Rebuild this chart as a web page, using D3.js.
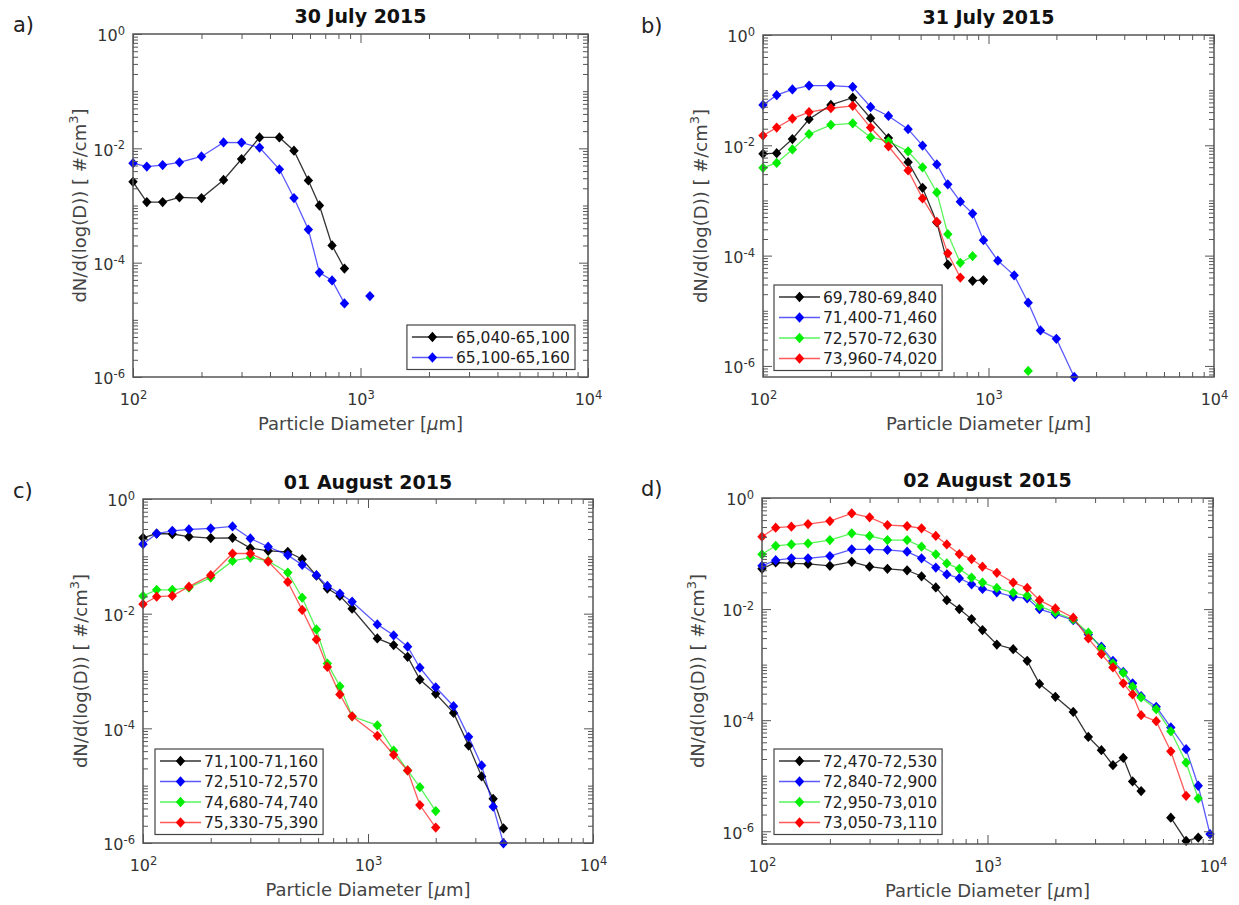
<!DOCTYPE html>
<html>
<head>
<meta charset="utf-8">
<script src="https://cdn.jsdelivr.net/npm/d3@7"></script>
<style>
  body { margin: 0; background: #fff; }
  svg text { font-family: "DejaVu Sans", sans-serif; }
</style>
</head>
<body>
<svg id="fig" width="1239" height="905"></svg>
<script>
/* ===== Data ===== */
// particle diameter bin centres [um]
const diameters = [100, 115, 135, 160, 200, 250, 300, 360, 440, 510, 590, 660, 750, 850, 950,
                   1100, 1300, 1500, 1700, 2000, 2400, 2800, 3200, 3600, 4000, 4400, 4800,
                   5600, 6500, 7600, 8600, 9700];
// panel c has no separate 950 bin
const diametersC = diameters.filter(d => d !== 950);

const titles = ["30 July 2015", "31 July 2015", "01 August 2015", "02 August 2015"];
const panelLetters = ["a)", "b)", "c)", "d)"];
const seriesColors = ["#000000", "#0000ff", "#00ee00", "#ff0000"];

// a) 30 July 2015
const legendA = ["65,040-65,100", "65,100-65,160"];
const a_65040 = [2.6e-3, 1.15e-3, 1.15e-3, 1.39e-3, 1.35e-3, 2.8e-3, 6.5e-3, 1.55e-2, 1.55e-2, 9.1e-3,
                 2.74e-3, 1.0e-3, 2.0e-4, 7.9e-5];
const a_65100 = [5.5e-3, 4.8e-3, 5.1e-3, 5.7e-3, 7.2e-3, 1.27e-2, 1.26e-2, 1.03e-2, 4.3e-3, 1.35e-3,
                 3.8e-4, 6.7e-5, 4.9e-5, 1.94e-5, null, 2.6e-5];

// b) 31 July 2015
const legendB = ["69,780-69,840", "71,400-71,460", "72,570-72,630", "73,960-74,020"];
const b_69780 = [7.0e-3, 7.2e-3, 1.3e-2, 2.97e-2, 5.4e-2, 7.3e-2, 3.1e-2, 1.35e-2, 4.95e-3, 1.7e-3,
                 4.0e-4, 6.9e-5, null, 3.5e-5, 3.6e-5];
const b_71400 = [5.4e-2, 8.1e-2, 0.103, 0.121, 0.121, 0.115, 4.95e-2, 3.4e-2, 1.96e-2, 9.9e-3,
                 4.5e-3, 1.96e-3, 9.5e-4, 5.8e-4, 1.9e-4, 8.1e-5, 4.4e-5, 1.4e-5, 4.4e-6, 3.1e-6, 6.3e-7];
const b_72570 = [3.9e-3, 4.8e-3, 8.4e-3, 1.6e-2, 2.35e-2, 2.5e-2, 1.4e-2, 1.18e-2, 7.8e-3, 4.0e-3,
                 1.4e-3, 2.45e-4, 7.4e-5, 9.8e-5, null, null, null, 8.1e-7];
const b_73960 = [1.5e-2, 2.1e-2, 3.05e-2, 4.0e-2, 4.7e-2, 5.2e-2, 2.1e-2, 9.6e-3, 3.5e-3, 1.09e-3,
                 4.1e-4, 1.1e-4, 4.0e-5];

// c) 01 August 2015 (on diametersC)
const legendC = ["71,100-71,160", "72,510-72,570", "74,680-74,740", "75,330-75,390"];
const c_71100 = [0.21, 0.25, 0.245, 0.22, 0.208, 0.21, 0.139, 0.125, 0.12, 8.9e-2, 4.6e-2, 2.74e-2,
                 2.04e-2, 1.22e-2, 3.7e-3, 2.83e-3, 1.77e-3, 7.1e-4, 4.0e-4, 1.86e-4, 5.0e-5, 1.45e-5,
                 5.9e-6, 1.8e-6];
const c_72510 = [0.163, 0.25, 0.279, 0.294, 0.307, 0.333, 0.205, 0.147, 0.105, 7.1e-2, 4.7e-2, 3.05e-2,
                 2.24e-2, 1.62e-2, 6.5e-3, 4.2e-3, 2.65e-3, 1.14e-3, 5.2e-4, 2.43e-4, 7.1e-5, 2.25e-5,
                 4.3e-6, 9.9e-7];
const c_74680 = [2.04e-2, 2.6e-2, 2.6e-2, 2.85e-2, 4.26e-2, 8.3e-2, 9.5e-2, 8.3e-2, 5.2e-2, 1.9e-2,
                 5.3e-3, 1.35e-3, 5.4e-4, 1.62e-4, 1.13e-4, 4.1e-5, 1.84e-5, 9.4e-6, 3.6e-6];
const c_75330 = [1.46e-2, 1.98e-2, 2.04e-2, 2.96e-2, 4.7e-2, 0.112, 0.112, 8.1e-2, 3.58e-2, 1.16e-2,
                 3.56e-3, 1.18e-3, 3.9e-4, 1.62e-4, 7.4e-5, 3.46e-5, 1.84e-5, 4.6e-6, 1.86e-6];

// d) 02 August 2015
const legendD = ["72,470-72,530", "72,840-72,900", "72,950-73,010", "73,050-73,110"];
const d_72470 = [5.3e-2, 6.9e-2, 6.65e-2, 6.5e-2, 6.0e-2, 7.1e-2, 5.8e-2, 5.3e-2, 5.0e-2, 3.9e-2,
                 2.46e-2, 1.45e-2, 1.0e-2, 6.6e-3, 4.2e-3, 2.3e-3, 1.9e-3, 1.17e-3, 4.5e-4, 2.64e-4,
                 1.41e-4, 5.0e-5, 2.88e-5, 1.55e-5, 2.1e-5, 7.9e-6, 5.3e-6, null, 1.76e-6, 6.7e-7, 7.7e-7];
const d_72840 = [6.0e-2, 7.6e-2, 8.2e-2, 8.2e-2, 9.0e-2, 0.119, 0.119, 0.116, 0.108, 8.2e-2,
                 5.6e-2, 4.2e-2, 3.6e-2, 2.8e-2, 2.3e-2, 2.0e-2, 1.67e-2, 1.56e-2, 1.0e-2, 8.1e-3,
                 6.3e-3, 3.5e-3, 2.1e-3, 1.17e-3, 7.4e-4, 4.6e-4, 2.7e-4, 1.74e-4, 7.4e-5, 3.0e-5,
                 6.6e-6, 8.9e-7];
const d_72950 = [9.7e-2, 0.138, 0.146, 0.152, 0.175, 0.231, 0.207, 0.175, 0.175, 0.133,
                 9.7e-2, 6.65e-2, 5.3e-2, 3.7e-2, 3.0e-2, 2.4e-2, 1.97e-2, 1.74e-2, 1.13e-2, 8.7e-3,
                 6.5e-3, 3.75e-3, 1.96e-3, 1.05e-3, 7.1e-4, 4.0e-4, 2.57e-4, 1.58e-4, 6.3e-5, 1.73e-5,
                 3.9e-6];
const d_73050 = [0.201, 0.292, 0.304, 0.34, 0.385, 0.53, 0.448, 0.326, 0.313, 0.284,
                 0.207, 0.146, 9.8e-2, 7.96e-2, 5.8e-2, 4.5e-2, 3.0e-2, 2.4e-2, 1.45e-2, 1.03e-2,
                 7.0e-3, 2.96e-3, 1.55e-3, 8.9e-4, 4.6e-4, 2.9e-4, 1.23e-4, 9.6e-5, 2.75e-5, 4.35e-6];

/*
* One log-log panel with box, inward ticks on all sides, markers + lines and a legend.
*/
class SizeDistPanel {

    constructor(svg, opt) {
        this.opt = opt;
        this.g = svg.append("g");
        this.x = d3.scaleLog().domain([100, 10000]).range([opt.left, opt.right]);
        this.y = d3.scaleLog().domain([opt.yMin, 1]).range([opt.bottom, opt.top]);

        this.drawSeries();
        this.drawAxes();
        this.drawTexts();
        this.drawLegend();
    }

    drawAxes() {
        const {x, y, opt, g} = this;
        const axisColor = "#555";

        const majorX = [100, 1000, 10000];
        const minorX = [];
        [100, 1000].forEach(dec => d3.range(2, 10).forEach(k => minorX.push(k * dec)));

        const majorY = [1, 1e-2, 1e-4, 1e-6];
        const minorY = [];
        d3.range(-7, 0).forEach(e => d3.range(1, 10).forEach(k => {
            const v = k * Math.pow(10, e);
            if (v >= opt.yMin && v < 1 && !majorY.some(m => Math.abs(m - v) / v < 1e-9)) minorY.push(v);
        }));

        const style = sel => {
            sel.select(".domain").remove();
            sel.selectAll(".tick line").attr("stroke", axisColor).attr("stroke-width", 1);
        };

        // ticks pointing into the box, mirrored on top and right
        g.append("g").attr("transform", `translate(0,${opt.bottom})`)
         .call(d3.axisBottom(x).tickValues(minorX).tickSize(-5).tickFormat("")).call(style);
        g.append("g").attr("transform", `translate(0,${opt.top})`)
         .call(d3.axisTop(x).tickValues(minorX).tickSize(-5).tickFormat("")).call(style);
        g.append("g").attr("transform", `translate(0,${opt.top})`)
         .call(d3.axisTop(x).tickValues(majorX).tickSize(-9).tickFormat("")).call(style);
        g.append("g").attr("transform", `translate(${opt.left},0)`)
         .call(d3.axisLeft(y).tickValues(minorY).tickSize(-5).tickFormat("")).call(style);
        g.append("g").attr("transform", `translate(${opt.right},0)`)
         .call(d3.axisRight(y).tickValues(minorY).tickSize(-5).tickFormat("")).call(style);
        g.append("g").attr("transform", `translate(${opt.right},0)`)
         .call(d3.axisRight(y).tickValues(majorY.filter(v => v >= opt.yMin)).tickSize(-9).tickFormat("")).call(style);

        // labelled major ticks
        const xAxis = g.append("g").attr("transform", `translate(0,${opt.bottom})`)
         .call(d3.axisBottom(x).tickValues(majorX).tickSize(-9).tickPadding(15)
               .tickFormat(d => Math.round(Math.log10(d))));
        xAxis.call(style);
        xAxis.selectAll(".tick text").each(function(d) { supLabel(d3.select(this), Math.round(Math.log10(d))); })
             .attr("y", 28).attr("dy", null);

        const yAxis = g.append("g").attr("transform", `translate(${opt.left},0)`)
         .call(d3.axisLeft(y).tickValues(majorY.filter(v => v >= opt.yMin)).tickSize(-9).tickPadding(8)
               .tickFormat(d => Math.round(Math.log10(d))));
        yAxis.call(style);
        yAxis.selectAll(".tick text").each(function(d) { supLabel(d3.select(this), Math.round(Math.log10(d))); })
             .attr("dy", "0.42em");

        // the box
        g.append("rect")
         .attr("x", opt.left).attr("y", opt.top)
         .attr("width", opt.right - opt.left).attr("height", opt.bottom - opt.top)
         .attr("fill", "none").attr("stroke", axisColor).attr("stroke-width", 1.5);
    }

    drawSeries() {
        const {x, y, opt, g} = this;
        const line = d3.line()
                       .defined(d => d.v != null)
                       .x(d => x(d.d))
                       .y(d => y(d.v));

        opt.series.forEach((vals, i) => {
            const pts = vals.map((v, j) => ({d: opt.bins[j], v: v}));
            const color = seriesColors[i];
            g.append("path")
             .datum(pts)
             .attr("fill", "none")
             .attr("stroke", color)
             .attr("stroke-opacity", i == 0 ? 0.8 : 0.65)
             .attr("stroke-width", 1.3)
             .attr("d", line);
            g.append("g").selectAll("path")
             .data(pts.filter(p => p.v != null))
             .join("path")
             .attr("transform", p => `translate(${x(p.d)},${y(p.v)}) ${markerScale}`)
             .attr("d", diamond)
             .attr("fill", color);
        });
    }

    drawTexts() {
        const {opt, g} = this;
        const cx = (opt.left + opt.right) / 2;
        const cy = (opt.top + opt.bottom) / 2;

        g.append("text")
         .attr("x", cx).attr("y", opt.titleY)
         .attr("text-anchor", "middle")
         .attr("font-weight", "bold").attr("font-size", 19).attr("fill", "#111")
         .text(opt.title);

        g.append("text")
         .attr("x", opt.letterX).attr("y", opt.titleY + 9)
         .attr("font-family", "Lato, sans-serif")
         .attr("font-size", 21).attr("fill", "#222")
         .text(opt.letter);

        const xl = g.append("text")
         .attr("x", cx).attr("y", opt.bottom + 53)
         .attr("text-anchor", "middle")
         .attr("font-size", 18).attr("fill", "#444");
        xl.append("tspan").text("Particle Diameter [");
        xl.append("tspan").attr("font-style", "italic").text("\u03bc");
        xl.append("tspan").text("m]");

        const yl = g.append("text")
         .attr("transform", `translate(${opt.yLabelX},${cy}) rotate(-90)`)
         .attr("text-anchor", "middle")
         .attr("font-size", 18).attr("fill", "#444");
        yl.append("tspan").text("dN/d(log(D)) [ #/cm");
        yl.append("tspan").attr("dy", -8).attr("font-size", 13).text("3");
        yl.append("tspan").attr("dy", 8).text("]");
    }

    drawLegend() {
        const {opt, g} = this;
        const rowH = 20.5;
        const n = opt.legend.length;
        const lg = g.append("g");
        const box = lg.append("rect")
                      .attr("fill", "#fff").attr("stroke", "#444").attr("stroke-width", 1.2);
        let maxW = 0;
        opt.legend.forEach((label, i) => {
            const ry = opt.legendY + 12 + i * rowH;
            const lx = opt.legendX + 5;
            lg.append("line")
              .attr("x1", lx).attr("x2", lx + 41).attr("y1", ry).attr("y2", ry)
              .attr("stroke", seriesColors[i]).attr("stroke-width", 1.3)
              .attr("stroke-opacity", i == 0 ? 0.8 : 0.65);
            lg.append("path")
              .attr("transform", `translate(${lx + 20.5},${ry}) ${markerScale}`)
              .attr("d", diamond)
              .attr("fill", seriesColors[i]);
            const t = lg.append("text")
              .attr("x", lx + 44).attr("y", ry).attr("dy", "0.36em")
              .attr("font-size", 15.5).attr("fill", "#222")
              .text(label);
            maxW = Math.max(maxW, t.node().getComputedTextLength());
        });
        box.attr("x", opt.legendX).attr("y", opt.legendY)
           .attr("width", 49 + maxW + 5)
           .attr("height", 24 + (n - 1) * rowH);
        if (opt.legendRight) {
            lg.attr("transform", `translate(${opt.legendRight - (opt.legendX + 49 + maxW + 5)},0)`);
        }
    }
}

// filled diamond marker, stretched to the squat shape of the original
const diamond = d3.symbol().type(d3.symbolDiamond).size(42)();
const markerScale = "scale(1.35,0.85)";

// "10" with the exponent as superscript
function supLabel(text, exp) {
    text.text(null)
        .attr("font-size", 16).attr("fill", "#333");
    text.append("tspan").text("10");
    text.append("tspan").attr("dy", "-0.55em").attr("font-size", 11.5).text(exp);
}

const svg = d3.select("#fig");

new SizeDistPanel(svg, {
    left: 133, right: 588, top: 34, bottom: 377, yMin: 1e-6,
    title: titles[0], letter: panelLetters[0], titleY: 23, letterX: 13, yLabelX: 86,
    bins: diameters, series: [a_65040, a_65100],
    legend: legendA, legendX: 407, legendY: 325, legendRight: 575
});
new SizeDistPanel(svg, {
    left: 763, right: 1214, top: 35, bottom: 377, yMin: 6.3e-7,
    title: titles[1], letter: panelLetters[1], titleY: 24, letterX: 641, yLabelX: 707,
    bins: diameters, series: [b_69780, b_71400, b_72570, b_73960],
    legend: legendB, legendX: 774, legendY: 285
});
new SizeDistPanel(svg, {
    left: 143, right: 593, top: 499, bottom: 843, yMin: 1e-6,
    title: titles[2], letter: panelLetters[2], titleY: 489, letterX: 13, yLabelX: 87,
    bins: diametersC, series: [c_71100, c_72510, c_74680, c_75330],
    legend: legendC, legendX: 155, legendY: 749
});
new SizeDistPanel(svg, {
    left: 762, right: 1213, top: 498, bottom: 844, yMin: 5.9e-7,
    title: titles[3], letter: panelLetters[3], titleY: 487, letterX: 641, yLabelX: 704,
    bins: diameters, series: [d_72470, d_72840, d_72950, d_73050],
    legend: legendD, legendX: 774, legendY: 749
});
</script>
</body>
</html>
